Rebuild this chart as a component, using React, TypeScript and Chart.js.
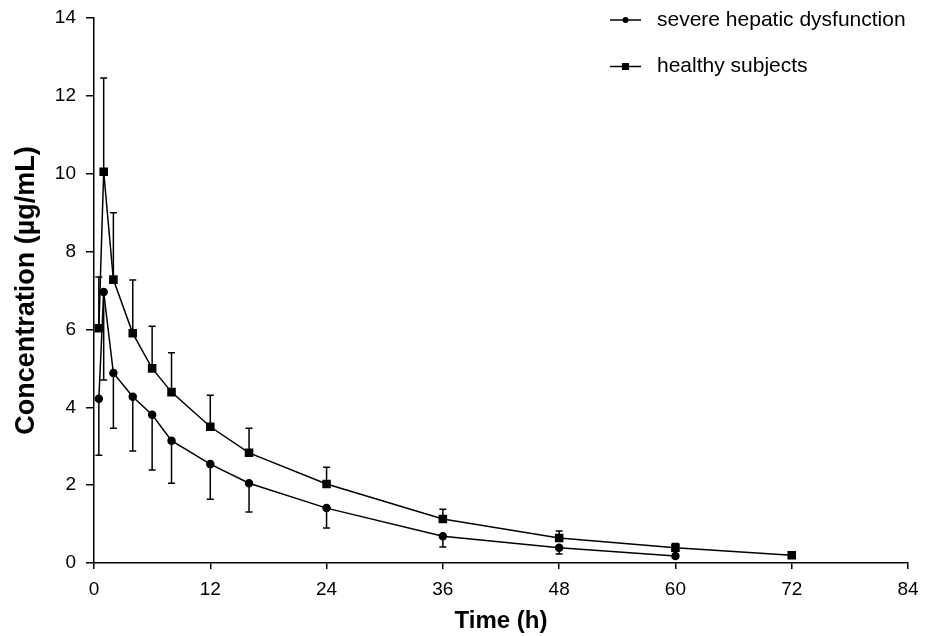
import React, { useEffect, useRef } from "react";
import { Chart, registerables } from "chart.js";

Chart.register(...registerables);

const timePoints = [0.5, 1, 2, 4, 6, 8, 12, 16, 24, 36, 48, 60, 72];

const severeMean = [4.22, 6.96, 4.88, 4.27, 3.81, 3.14, 2.54, 2.05, 1.41, 0.69, 0.39, 0.18];
const severeLower = [2.77, 4.70, 3.46, 2.88, 2.39, 2.05, 1.64, 1.31, 0.90, 0.41, 0.23, 0.12];

const healthyMean = [6.03, 10.05, 7.28, 5.90, 5.00, 4.39, 3.50, 2.83, 2.03, 1.13, 0.64, 0.39, 0.20];
const healthyUpper = [7.35, 12.46, 9.0, 7.27, 6.08, 5.40, 4.31, 3.46, 2.46, 1.38, 0.82, 0.50, 0.22];

const seriesNames = ["severe hepatic dysfunction", "healthy subjects"];
const xTicks = [0, 12, 24, 36, 48, 60, 72, 84];
const xTitle = "Time (h)";
const yTitle = "Concentration (\u00b5g/mL)";

const FONT = '"Liberation Sans", Arial, Helvetica, sans-serif';

const errorBarPlugin = {
  id: "errorBars",
  afterDatasetsDraw(chart: any) {
    const ctx = chart.ctx;
    const xs = chart.scales.x;
    const ys = chart.scales.y;
    ctx.save();
    ctx.strokeStyle = "#000";
    ctx.lineWidth = 1.5;
    const cap = 3.5;
    const draw = (means: number[], ends: number[]) => {
      means.forEach((m, i) => {
        const e = ends[i];
        if (e === undefined) return;
        const px = xs.getPixelForValue(timePoints[i]);
        const py1 = ys.getPixelForValue(m);
        const py2 = ys.getPixelForValue(e);
        ctx.beginPath();
        ctx.moveTo(px, py1);
        ctx.lineTo(px, py2);
        ctx.moveTo(px - cap, py2);
        ctx.lineTo(px + cap, py2);
        ctx.stroke();
      });
    };
    draw(severeMean, severeLower);
    draw(healthyMean, healthyUpper);
    ctx.restore();
  },
};

const legendPlugin = {
  id: "customLegend",
  afterDraw(chart: any) {
    const ctx = chart.ctx;
    ctx.save();
    ctx.font = `21px ${FONT}`;
    ctx.fillStyle = "#000";
    ctx.strokeStyle = "#000";
    ctx.lineWidth = 1.5;
    ctx.textBaseline = "middle";
    const rows = [
      { y: 20, style: "circle" },
      { y: 66.5, style: "rect" },
    ];
    rows.forEach((r, i) => {
      ctx.beginPath();
      ctx.moveTo(610, r.y);
      ctx.lineTo(641, r.y);
      ctx.stroke();
      ctx.beginPath();
      if (r.style === "circle") {
        ctx.arc(625.5, r.y, 3, 0, Math.PI * 2);
        ctx.fill();
      } else {
        ctx.fillRect(622, r.y - 3.5, 7, 7);
      }
      ctx.fillText(seriesNames[i], 657, r.y);
    });
    ctx.restore();
  },
};

export default function App() {
  const ref = useRef<HTMLCanvasElement | null>(null);
  useEffect(() => {
    if (!ref.current) return;
    const chart = new Chart(ref.current, {
      type: "line",
      data: {
        datasets: [
          {
            label: seriesNames[0],
            data: severeMean.map((v, i) => ({ x: timePoints[i], y: v })),
            borderColor: "#000",
            backgroundColor: "#000",
            borderWidth: 1.5,
            pointStyle: "circle",
            pointRadius: 3.5,
            tension: 0,
          },
          {
            label: seriesNames[1],
            data: healthyMean.map((v, i) => ({ x: timePoints[i], y: v })),
            borderColor: "#000",
            backgroundColor: "#000",
            borderWidth: 1.5,
            pointStyle: "rect",
            pointRadius: 5,
            tension: 0,
          },
        ],
      },
      options: {
        responsive: false,
        animation: false,
        layout: { padding: { top: 18, right: 25, left: 0, bottom: 0 } },
        plugins: { legend: { display: false }, tooltip: { enabled: false } },
        scales: {
          x: {
            type: "linear",
            min: 0,
            max: 84,
            afterBuildTicks: (s: any) => {
              s.ticks = xTicks.map((v) => ({ value: v }));
            },
            afterFit: (s: any) => {
              s.height = 73;
              s.paddingLeft = 0;
              s.paddingRight = 0;
            },
            grid: { display: true, drawOnChartArea: false, drawTicks: true, tickLength: 6, color: "#000", lineWidth: 1.5 },
            border: { color: "#000", width: 1.5 },
            ticks: { color: "#000", font: { family: FONT, size: 19 }, padding: 9, maxRotation: 0 },
            title: { display: true, text: xTitle, color: "#000", font: { family: FONT, size: 24, weight: "bold" }, padding: { top: 0, bottom: 0 } },
          },
          y: {
            type: "linear",
            min: 0,
            max: 14,
            ticks: { stepSize: 2, color: "#000", font: { family: FONT, size: 19 }, padding: 10 },
            afterFit: (s: any) => {
              s.width = 94;
              s.paddingTop = 0;
              s.paddingBottom = 0;
            },
            grid: { display: true, drawOnChartArea: false, drawTicks: true, tickLength: 8, color: "#000", lineWidth: 1.5 },
            border: { color: "#000", width: 1.5 },
            title: { display: true, text: yTitle, color: "#000", font: { family: FONT, size: 27, weight: "bold" }, padding: { top: 10, bottom: 4 } },
          },
        },
      },
      plugins: [errorBarPlugin, legendPlugin],
    } as any);
    return () => chart.destroy();
  }, []);
  return (
    <div style={{ position: "absolute", left: 0, top: 0, width: 933, height: 636, background: "#fff" }}>
      <canvas ref={ref} width={933} height={636} />
    </div>
  );
}
